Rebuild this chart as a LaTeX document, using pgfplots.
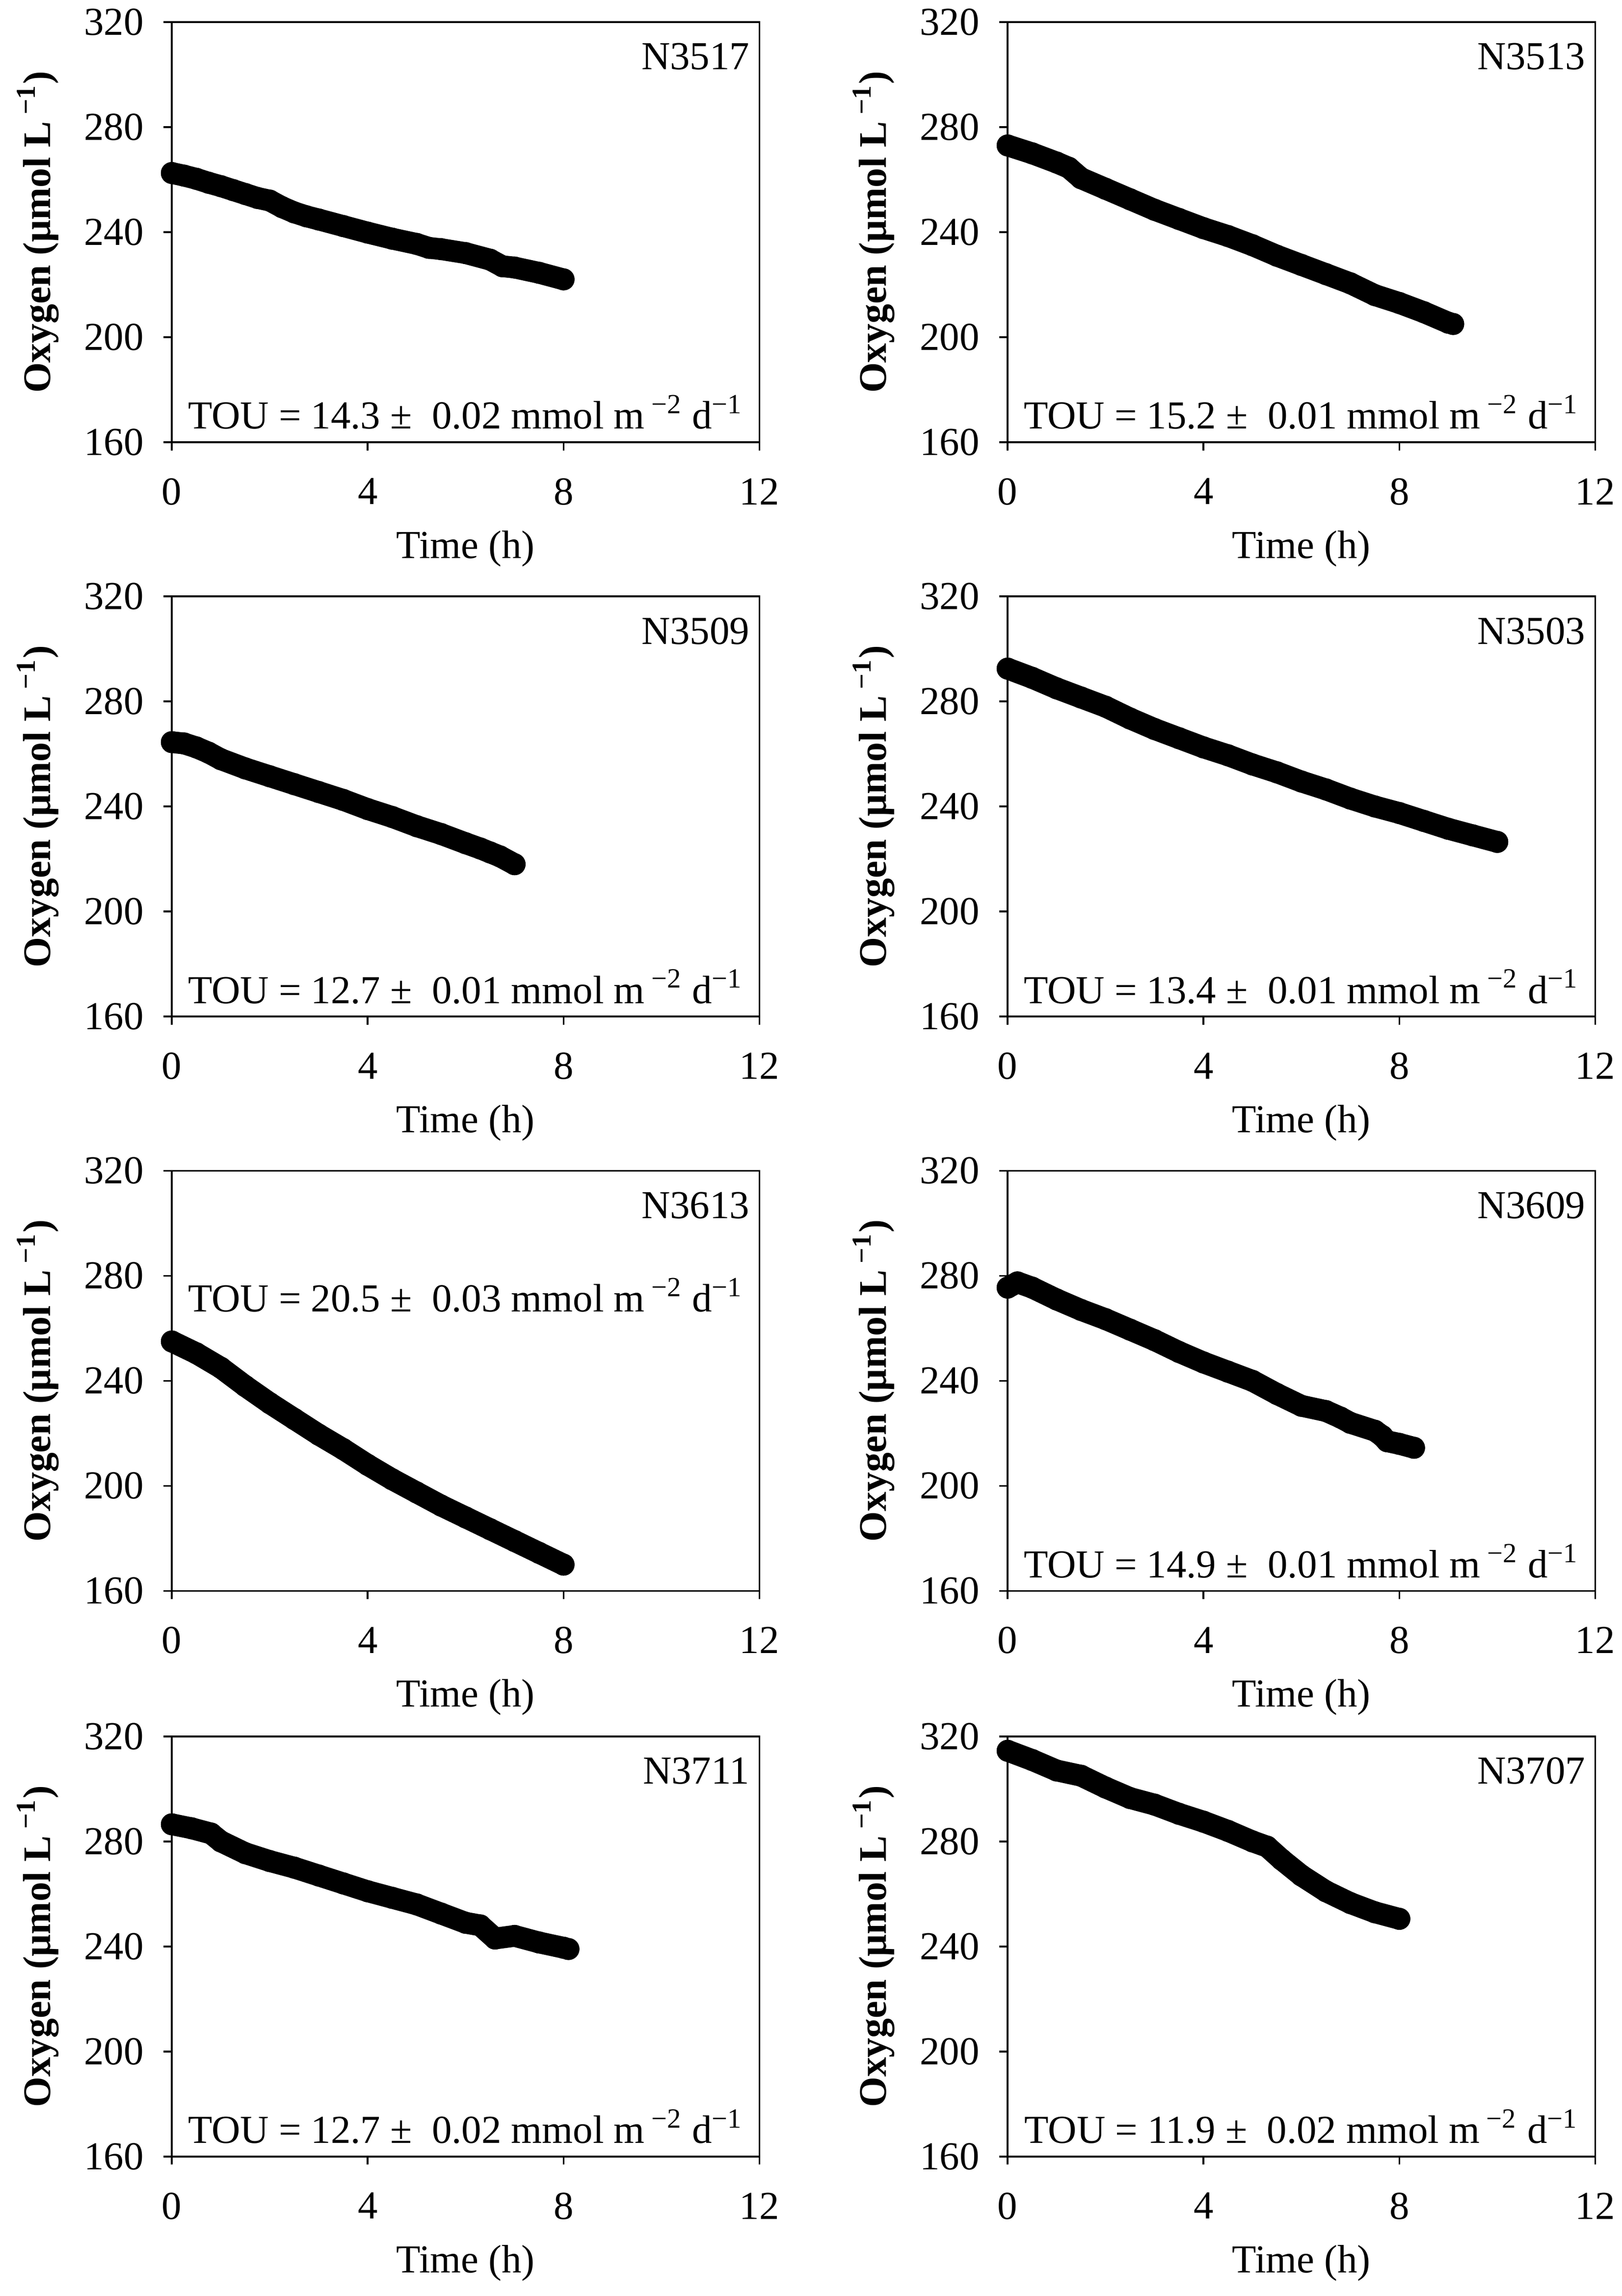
\documentclass[border=0pt]{standalone}
\usepackage{fontspec}
\setmainfont{Liberation Serif}
\usepackage{pgfplots}
\pgfplotsset{compat=1.18}
\newcommand{\fs}{\fontsize{13.5}{16}\selectfont}
\pgfplotsset{
  panel/.style={
    scale only axis, width=200pt, height=143pt,
    xmin=0, xmax=12, ymin=160, ymax=320,
    xtick={0,4,8,12}, ytick={160,200,240,280,320},
    tick align=outside, xtick pos=bottom, ytick pos=left,
    major tick length=2.8pt,
    tick style={black, line width=0.6pt},
    axis line style={line width=0.6pt},
    /pgf/number format/assume math mode=true,
    ticklabel style={font=\fs},
    xticklabel style={yshift=-6pt},
    yticklabel style={xshift=-3.3pt},
    xlabel={Time (h)},
    xlabel style={at={(axis description cs:0.5,0)}, anchor=base, yshift=-39.5pt, font=\fs},
    ylabel={\bfseries Oxygen (μmol L\,\textsuperscript{−1})},
    ylabel style={at={(axis description cs:-0.228,0.5)}, anchor=center, font=\fontsize{13.3}{15}\selectfont},
    clip=false,
  },
  curve/.style={black, line width=7.4pt, line cap=round, line join=round,
    mark=*, mark size=3.7pt, mark options={solid, line width=0.1pt, fill=black}},
}
\newcommand{\tou}[2]{TOU = #1 ±\ \ #2 mmol m\,\textsuperscript{−2} d\textsuperscript{−1}}
\begin{document}
\begin{tikzpicture}
\path[use as bounding box] (0,0) rectangle (552pt,-781.5pt);
% Row 1 left
\begin{axis}[panel, at={(58.5pt,-7.5pt)}, anchor=north west]
\addplot[curve] table {
0 262.5
0.25 261.5
0.5 260.3
0.75 258.8
1.0 257.5
1.25 256
1.5 254.5
1.75 253
2.0 252
2.25 249.5
2.5 247.5
2.75 246
3.0 244.8
3.5 242.3
4.0 239.8
4.5 237.5
5.0 235.5
5.25 234
5.5 233.5
6.0 232
6.5 229.5
6.75 227
7.0 226.5
7.5 224.5
8.0 222
};
\node[anchor=north east, inner sep=0pt, xshift=-3.2pt, yshift=-7pt, font=\fs] at (rel axis cs:1,1) {N3517};
\node[anchor=base, inner sep=0pt, yshift=4.5pt, font=\fs] at (rel axis cs:0.5,0) {\tou{14.3}{0.02}};
\end{axis}
% Row 1 right
\begin{axis}[panel, at={(343pt,-7.5pt)}, anchor=north west]
\addplot[curve] table {
0 273
0.5 270
1.0 266.5
1.25 264.5
1.5 260.5
2.0 256.5
2.5 252.5
3.0 248.5
3.5 245
4.0 241.5
4.5 238.5
5.0 235
5.5 231
6.0 227.5
6.5 224
7.0 220.5
7.5 216
8.0 213
8.5 209.5
9.0 205.5
9.1 205
};
\node[anchor=north east, inner sep=0pt, xshift=-3.2pt, yshift=-7pt, font=\fs] at (rel axis cs:1,1) {N3513};
\node[anchor=base, inner sep=0pt, yshift=4.5pt, font=\fs] at (rel axis cs:0.5,0) {\tou{15.2}{0.01}};
\end{axis}
% Row 2 left
\begin{axis}[panel, at={(58.5pt,-203pt)}, anchor=north west]
\addplot[curve] table {
0 264.5
0.25 264
0.5 262.5
0.75 260.5
1.0 258
1.5 254.5
2.0 251.5
2.5 248.5
3.0 245.5
3.5 242.5
4.0 239
4.5 236
5.0 232.5
5.5 229.5
6.0 226
6.3 224
6.5 222.5
6.7 221
7.0 218
};
\node[anchor=north east, inner sep=0pt, xshift=-3.2pt, yshift=-7pt, font=\fs] at (rel axis cs:1,1) {N3509};
\node[anchor=base, inner sep=0pt, yshift=4.5pt, font=\fs] at (rel axis cs:0.5,0) {\tou{12.7}{0.01}};
\end{axis}
% Row 2 right
\begin{axis}[panel, at={(343pt,-203pt)}, anchor=north west]
\addplot[curve] table {
0 292.5
0.5 289
1.0 285
1.5 281.5
2.0 278
2.5 273.5
3.0 269.5
3.5 266
4.0 262.5
4.5 259.5
5.0 256
5.5 253
6.0 249.5
6.5 246.5
7.0 243
7.5 240
8.0 237.5
8.5 234.5
9.0 231.5
9.5 229
10.0 226.5
};
\node[anchor=north east, inner sep=0pt, xshift=-3.2pt, yshift=-7pt, font=\fs] at (rel axis cs:1,1) {N3503};
\node[anchor=base, inner sep=0pt, yshift=4.5pt, font=\fs] at (rel axis cs:0.5,0) {\tou{13.4}{0.01}};
\end{axis}
% Row 3 left
\begin{axis}[panel, at={(58.5pt,-398.5pt)}, anchor=north west]
\addplot[curve] table {
0 255
0.5 250.5
1.0 245
1.5 238
2.0 231.5
2.5 225.5
3.0 219.5
3.5 214
4.0 208
4.5 202.5
5.0 197.5
5.5 192.5
6.0 188
6.5 183.5
7.0 179
7.5 174.5
8.0 170
};
\node[anchor=north east, inner sep=0pt, xshift=-3.2pt, yshift=-7pt, font=\fs] at (rel axis cs:1,1) {N3613};
\node[anchor=base, inner sep=0pt, yshift=-48pt, font=\fs] at (rel axis cs:0.5,1) {\tou{20.5}{0.03}};
\end{axis}
% Row 3 right
\begin{axis}[panel, at={(343pt,-398.5pt)}, anchor=north west]
\addplot[curve] table {
0 275.5
0.2 277.5
0.5 275.5
1.0 271
1.5 267
2.0 263.5
2.5 259.5
3.0 255.5
3.5 251
4.0 247
4.5 243.5
5.0 240
5.5 235
6.0 230.5
6.5 228.5
6.8 226
7.0 224
7.5 221
7.65 219
7.75 217
8.0 216
8.3 214.5
};
\node[anchor=north east, inner sep=0pt, xshift=-3.2pt, yshift=-7pt, font=\fs] at (rel axis cs:1,1) {N3609};
\node[anchor=base, inner sep=0pt, yshift=4.5pt, font=\fs] at (rel axis cs:0.5,0) {\tou{14.9}{0.01}};
\end{axis}
% Row 4 left
\begin{axis}[panel, at={(58.5pt,-591pt)}, anchor=north west]
\addplot[curve] table {
0 286.5
0.4 285
0.8 283
1.0 280
1.5 275.5
2.0 272.5
2.5 270
3.0 267
3.5 264
4.0 261
4.5 258.5
5.0 256
5.5 252.5
6.0 249
6.3 248
6.6 243
7.0 244
7.5 241.5
8.0 239.5
8.1 239
};
\node[anchor=north east, inner sep=0pt, xshift=-3.2pt, yshift=-7pt, font=\fs] at (rel axis cs:1,1) {N3711};
\node[anchor=base, inner sep=0pt, yshift=4.5pt, font=\fs] at (rel axis cs:0.5,0) {\tou{12.7}{0.02}};
\end{axis}
% Row 4 right
\begin{axis}[panel, at={(343pt,-591pt)}, anchor=north west]
\addplot[curve] table {
0 314.5
0.5 311
1.0 307
1.5 305
2.0 300.5
2.5 296.5
3.0 294
3.5 290.5
4.0 287.5
4.5 284
5.0 280
5.3 278
5.6 273
6.0 267
6.5 261
7.0 256.5
7.5 253
8.0 250.5
};
\node[anchor=north east, inner sep=0pt, xshift=-3.2pt, yshift=-7pt, font=\fs] at (rel axis cs:1,1) {N3707};
\node[anchor=base, inner sep=0pt, yshift=4.5pt, font=\fs] at (rel axis cs:0.5,0) {\tou{11.9}{0.02}};
\end{axis}
\end{tikzpicture}
\end{document}
